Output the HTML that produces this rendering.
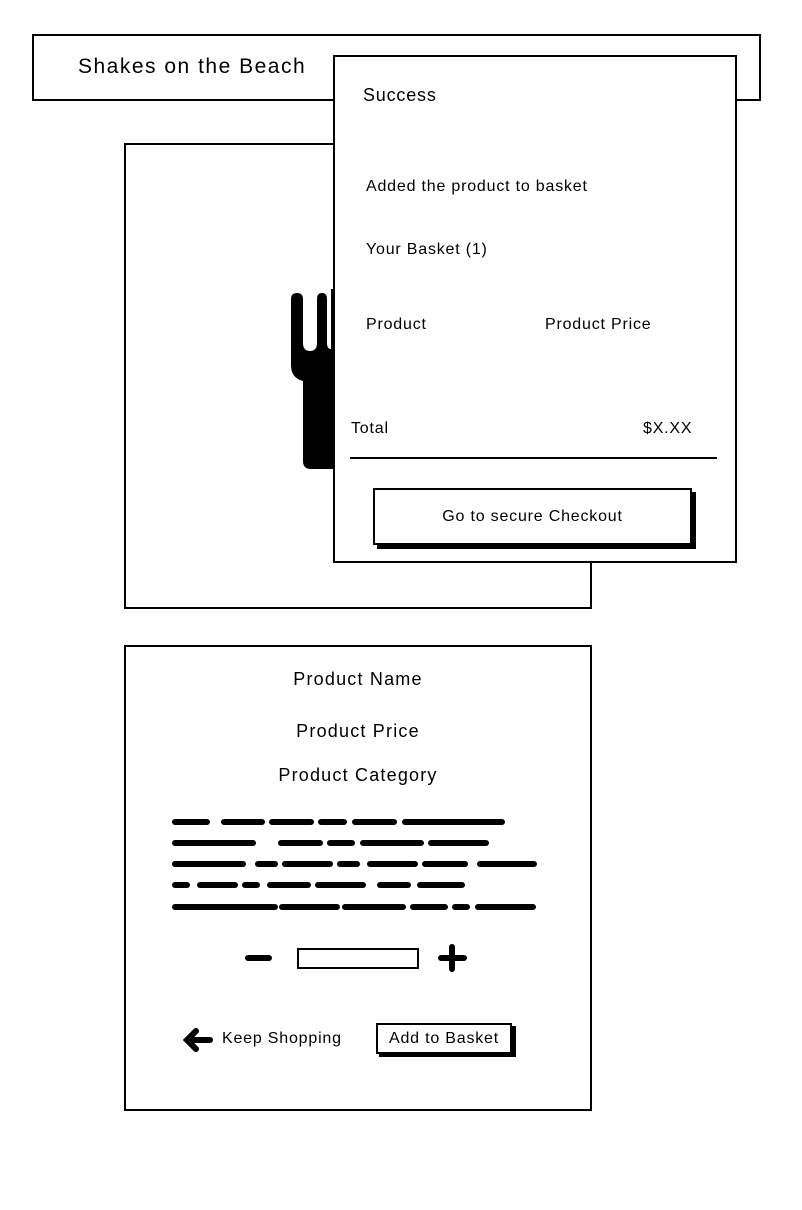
<!DOCTYPE html>
<html><head><meta charset="utf-8"><style>
body{margin:0;width:802px;height:1210px;background:#fff;position:relative;font-family:"Liberation Sans",sans-serif;color:#000;overflow:hidden}
.b{position:absolute;border:2px solid #000;box-sizing:border-box;background:#fff}
.t{position:absolute;white-space:nowrap;font-size:16px;letter-spacing:0.8px}
</style></head><body>
<div class="b" style="left:32px;top:34px;width:729px;height:67px"></div>
<div class="t" style="left:78px;top:55px;font-size:21px;letter-spacing:1.5px">Shakes on the Beach</div>
<div class="b" style="left:124px;top:143px;width:468px;height:466px"></div>
<svg style="position:absolute;left:0;top:0" width="802" height="1210">
<path d="M291 299 q0-6 6-6 q6 0 6 6 v44 q0 8 7 8 q7 0 7-8 v-44 q0-6 5-6 q5 0 5 6 v44 q0 6 4 6 v-60 h10 v180 h-30 q-8 0-8-8 v-80 q-12-3-12-16z" fill="#000"/>
</svg>
<div class="b" style="left:333px;top:55px;width:404px;height:508px"></div>
<div class="t" style="left:363px;top:85px;font-size:18px">Success</div>
<div class="t" style="left:366px;top:178px">Added the product to basket</div>
<div class="t" style="left:366px;top:241px">Your Basket (1)</div>
<div class="t" style="left:366px;top:316px">Product</div>
<div class="t" style="left:545px;top:316px">Product Price</div>
<div class="t" style="left:351px;top:420px">Total</div>
<div class="t" style="left:643px;top:420px">$X.XX</div>
<div style="position:absolute;left:350px;top:457px;width:367px;height:2px;background:#000"></div>
<div style="position:absolute;left:377px;top:492px;width:319px;height:57px;background:#000"></div>
<div class="b" style="left:373px;top:488px;width:319px;height:57px;text-align:center;line-height:53px;font-size:16px;letter-spacing:0.8px">Go to secure Checkout</div>

<div class="b" style="left:124px;top:645px;width:468px;height:466px"></div>
<div class="t" style="left:0;width:716px;text-align:center;top:669px;font-size:18px;letter-spacing:1.2px">Product Name</div>
<div class="t" style="left:0;width:716px;text-align:center;top:721px;font-size:18px;letter-spacing:1.2px">Product Price</div>
<div class="t" style="left:0;width:716px;text-align:center;top:765px;font-size:18px;letter-spacing:1.2px">Product Category</div>
<svg style="position:absolute;left:0;top:0" width="802" height="1210" stroke="#000" stroke-width="6" stroke-linecap="round">
<path d="M175 822h32M224 822h38M272 822h39M321 822h23M355 822h39M405 822h97"/>
<path d="M175 843h78M281 843h39M330 843h22M363 843h58M431 843h55M175 843h0"/>
<path d="M175 864h68M258 864h17M285 864h45M340 864h17M370 864h45M425 864h40M480 864h54"/>
<path d="M175 885h12M200 885h35M245 885h12M270 885h38M318 885h45M380 885h28M420 885h42"/>
<path d="M175 907h100M282 907h55M345 907h58M413 907h32M455 907h12M478 907h55"/>
<path d="M248 958h21M441 958h23M452 947v22" stroke-width="6"/>
<path d="M188 1040h22M196 1031l-9 9 9 9" stroke-width="6" fill="none"/>
</svg>
<div class="b" style="left:297px;top:948px;width:122px;height:21px"></div>
<div class="t" style="left:222px;top:1030px">Keep Shopping</div>
<div style="position:absolute;left:379px;top:1026px;width:137px;height:31px;background:#000"></div>
<div class="b" style="left:376px;top:1023px;width:136px;height:31px;text-align:center;line-height:27px;font-size:16px;letter-spacing:0.8px">Add to Basket</div>
</body></html>
